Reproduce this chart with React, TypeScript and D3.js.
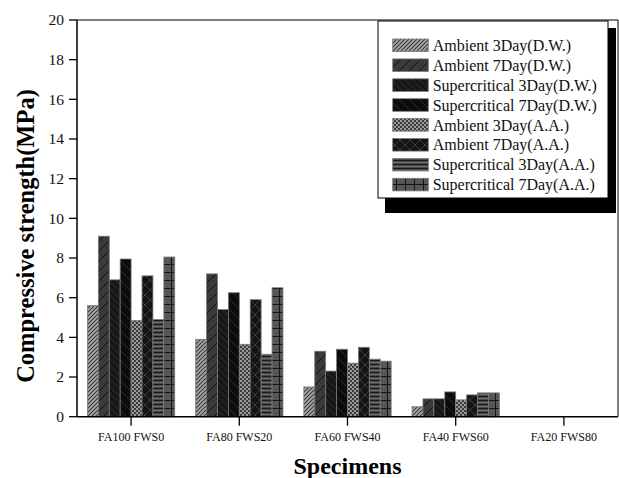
import React from "react";
import * as d3 from "d3";

const categories = ["FA100 FWS0", "FA80 FWS20", "FA60 FWS40", "FA40 FWS60", "FA20 FWS80"];
const seriesNames = [
  "Ambient 3Day(D.W.)",
  "Ambient 7Day(D.W.)",
  "Supercritical 3Day(D.W.)",
  "Supercritical 7Day(D.W.)",
  "Ambient 3Day(A.A.)",
  "Ambient 7Day(A.A.)",
  "Supercritical 3Day(A.A.)",
  "Supercritical 7Day(A.A.)",
];
const ambient3DW = [5.6, 3.9, 1.5, 0.5, 0];
const ambient7DW = [9.1, 7.2, 3.3, 0.9, 0];
const super3DW = [6.9, 5.4, 2.3, 0.9, 0];
const super7DW = [7.95, 6.25, 3.4, 1.25, 0];
const ambient3AA = [4.85, 3.65, 2.7, 0.85, 0];
const ambient7AA = [7.1, 5.9, 3.5, 1.1, 0];
const super3AA = [4.9, 3.15, 2.9, 1.2, 0];
const super7AA = [8.05, 6.5, 2.8, 1.2, 0];
const seriesValues = [ambient3DW, ambient7DW, super3DW, super7DW, ambient3AA, ambient7AA, super3AA, super7AA];
const yTicks = [0, 2, 4, 6, 8, 10, 12, 14, 16, 18, 20];

const W = 619, H = 478;
const M = { left: 77, right: 618, top: 20, bottom: 416.7 };

function Patterns() {
  return (
    <defs>
      <pattern id="p0" patternUnits="userSpaceOnUse" width="4" height="4">
        <rect width="4" height="4" fill="#a8a8a8" />
        <path d="M-1,1 l2,-2 M0,4 l4,-4 M3,5 l2,-2" stroke="#3a3a3a" strokeWidth="1.1" />
      </pattern>
      <pattern id="p1" patternUnits="userSpaceOnUse" width="10" height="10">
        <rect width="10" height="10" fill="#3a3a3a" />
        <path d="M-1,1 l2,-2 M0,10 l10,-10 M9,11 l2,-2" stroke="#111" strokeWidth="1" />
      </pattern>
      <pattern id="p2" patternUnits="userSpaceOnUse" width="7" height="7">
        <rect width="7" height="7" fill="#1e1e1e" />
        <path d="M-1,-1 l2,2 M0,0 l7,7 M6,-1 l2,2 M-1,6 l2,2" stroke="#050505" strokeWidth="1" />
      </pattern>
      <pattern id="p3" patternUnits="userSpaceOnUse" width="10" height="10">
        <rect width="10" height="10" fill="#0c0c0c" />
        <path d="M-1,9 l2,2 M0,0 l10,10 M9,-1 l2,2" stroke="#2c2c2c" strokeWidth="1" />
      </pattern>
      <pattern id="p4" patternUnits="userSpaceOnUse" width="4" height="4">
        <rect width="4" height="4" fill="#3a3a3a" />
        <rect x="0" y="0" width="2" height="2" fill="#9a9a9a" />
        <rect x="2" y="2" width="2" height="2" fill="#9a9a9a" />
      </pattern>
      <pattern id="p5" patternUnits="userSpaceOnUse" width="10" height="10">
        <rect width="10" height="10" fill="#141414" />
        <path d="M0,0 l10,10 M0,10 l10,-10" stroke="#3c3c3c" strokeWidth="1" />
      </pattern>
      <pattern id="p6" patternUnits="userSpaceOnUse" width="4" height="4">
        <rect width="4" height="4" fill="#4a4a4a" />
        <path d="M0,0.5 h4" stroke="#1a1a1a" strokeWidth="1" />
        <path d="M0,2.5 h4" stroke="#6e6e6e" strokeWidth="1" />
      </pattern>
      <pattern id="p7" patternUnits="userSpaceOnUse" width="9" height="8">
        <rect width="9" height="8" fill="#575757" />
        <path d="M0,0.5 h9 M0.5,0 v8" stroke="#151515" strokeWidth="1" />
      </pattern>
    </defs>
  );
}

export default function App() {
  const x0 = d3.scaleBand<string>().domain(categories).range([M.left, M.right]).padding(0);
  const bw = x0.bandwidth();
  const x1 = d3
    .scaleBand<string>()
    .domain(seriesNames)
    .range([bw * 0.0965, bw * 0.9035]);
  const y = d3.scaleLinear().domain([0, 20]).range([M.bottom, M.top]);
  const serif = "'Liberation Serif', 'Times New Roman', serif";

  const legX = 378, legY = 21, legW = 230, legH = 177;

  return (
    <svg width={W} height={H} style={{ position: "absolute", left: 0, top: 0, background: "#fff" }}>
      <Patterns />
      <rect width={W} height={H} fill="#fff" />
      {/* frame */}
      <path
        d={`M${M.left},${M.top} H${M.right} V${M.bottom}`}
        fill="none"
        stroke="#000"
        strokeWidth={1}
      />
      {/* bars */}
      {seriesValues.map((vals, si) =>
        vals.map((v, ci) =>
          v > 0 ? (
            <rect
              key={`${si}-${ci}`}
              x={(x0(categories[ci]) as number) + (x1(seriesNames[si]) as number)}
              y={y(v)}
              width={x1.bandwidth()}
              height={y(0) - y(v)}
              fill={`url(#p${si})`}
              stroke="#7a7a7a"
              strokeWidth={0.8}
            />
          ) : null
        )
      )}
      {/* axes */}
      <line x1={M.left} x2={M.left} y1={M.top} y2={M.bottom} stroke="#000" strokeWidth={1.5} />
      <line x1={M.left} x2={M.right} y1={M.bottom} y2={M.bottom} stroke="#000" strokeWidth={1.5} />
      {yTicks.map((t) => (
        <g key={t}>
          <line x1={M.left - 8} x2={M.left} y1={y(t)} y2={y(t)} stroke="#000" strokeWidth={1.3} />
          <text
            x={M.left - 13}
            y={y(t)}
            dy="0.35em"
            textAnchor="end"
            fontFamily={serif}
            fontSize={15.5}
            fill="#111"
          >
            {t}
          </text>
        </g>
      ))}
      {categories.map((c) => {
        const cx = (x0(c) as number) + bw / 2;
        return (
          <g key={c}>
            <line x1={cx} x2={cx} y1={M.bottom} y2={M.bottom + 9} stroke="#000" strokeWidth={1.3} />
            <text x={cx} y={441} textAnchor="middle" fontFamily={serif} fontSize={12} fill="#111">
              {c}
            </text>
          </g>
        );
      })}
      {/* axis titles */}
      <text
        transform={`translate(34,236) rotate(-90)`}
        textAnchor="middle"
        fontFamily={serif}
        fontWeight="bold"
        fontSize={24.5}
        fill="#000"
      >
        Compressive strength(MPa)
      </text>
      <text x={347.5} y={474} textAnchor="middle" fontFamily={serif} fontWeight="bold" fontSize={24} fill="#000">
        Specimens
      </text>
      {/* legend */}
      <rect x={legX + 7} y={legY + 7} width={legW + 1} height={legH + 8} fill="#000" />
      <rect x={legX} y={legY} width={legW} height={legH} fill="#fff" stroke="#000" strokeWidth={1} />
      {seriesNames.map((s, i) => {
        const cy = 45.3 + i * 19.9;
        return (
          <g key={s}>
            <rect
              x={392.7}
              y={cy - 6.3}
              width={35.6}
              height={12.6}
              fill={`url(#p${i})`}
              stroke="#7a7a7a"
              strokeWidth={0.8}
            />
            <text x={432.7} y={cy} dy="0.35em" fontFamily={serif} fontSize={16} fill="#111">
              {s}
            </text>
          </g>
        );
      })}
    </svg>
  );
}
